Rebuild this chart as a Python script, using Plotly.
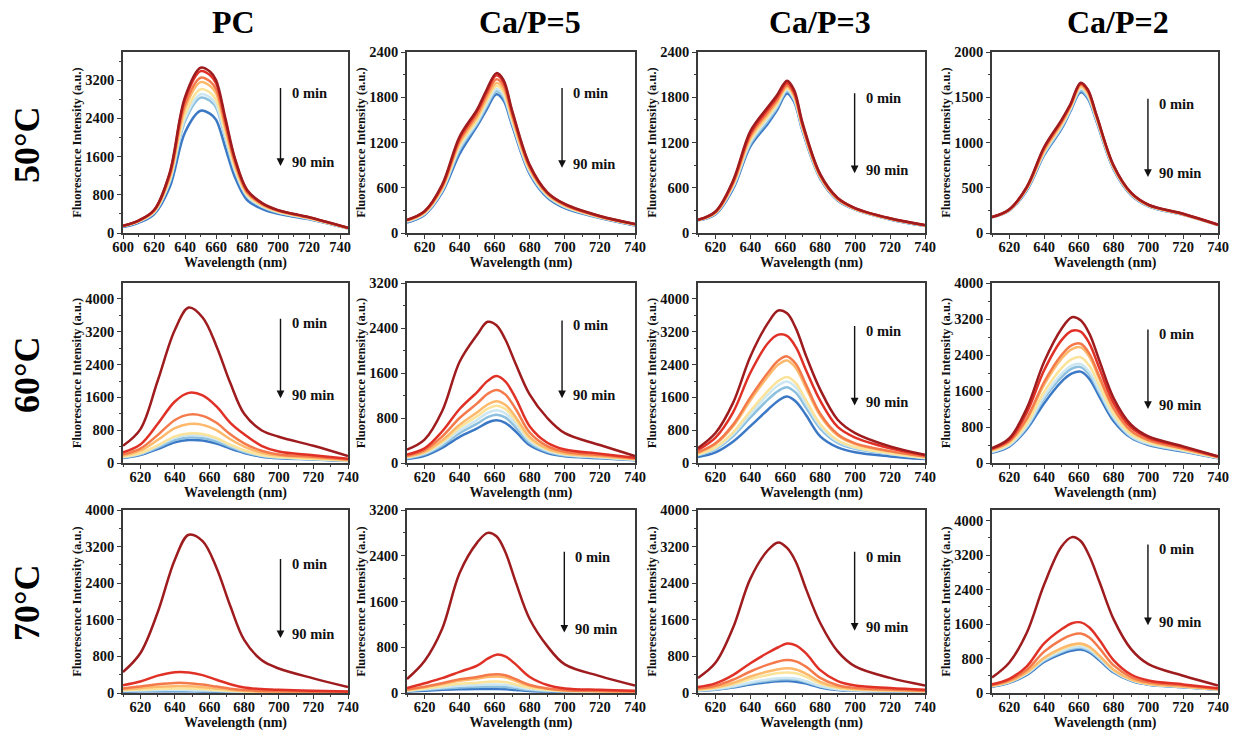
import plotly.graph_objects as go

# ---------------- data ----------------
WL_PC50 = [600, 610, 620, 630, 640, 650, 656, 660, 666, 672, 680, 690, 700, 720, 745]
WL_PC = [610, 620, 630, 640, 648, 656, 664, 672, 680, 690, 700, 720, 740]
WL_CAP50 = [610, 620, 630, 640, 650, 655, 661, 665, 670, 680, 690, 700, 720, 740]
WL_CAP = [610, 620, 630, 640, 650, 656, 661, 666, 672, 680, 690, 700, 720, 740]

# each panel: 8 spectra, 0 min (first) ... 90 min (last)
PC_50 = [
    [150, 260, 480, 1250, 2850, 3460, 3380, 3200, 2400, 1580, 900, 620, 480, 330, 110],
    [150, 258, 475, 1230, 2800, 3390, 3310, 3135, 2350, 1550, 885, 612, 475, 327, 108],
    [148, 255, 465, 1190, 2690, 3250, 3175, 3010, 2255, 1490, 855, 598, 467, 322, 106],
    [146, 250, 455, 1160, 2610, 3160, 3085, 2920, 2190, 1450, 835, 585, 458, 316, 104],
    [144, 245, 440, 1110, 2490, 3010, 2940, 2785, 2090, 1380, 800, 565, 444, 308, 101],
    [142, 240, 430, 1075, 2400, 2905, 2840, 2690, 2020, 1335, 775, 550, 434, 302, 99],
    [140, 235, 420, 1050, 2340, 2835, 2770, 2625, 1970, 1305, 760, 540, 428, 298, 97],
    [125, 215, 390, 950, 2110, 2560, 2500, 2370, 1780, 1180, 690, 500, 400, 285, 92],
]
CAP5_50 = [
    [175, 290, 640, 1280, 1640, 1880, 2120, 2030, 1620, 900, 540, 385, 225, 120],
    [172, 285, 625, 1255, 1615, 1850, 2090, 2000, 1600, 890, 535, 380, 222, 118],
    [170, 280, 610, 1225, 1575, 1810, 2040, 1955, 1565, 870, 525, 372, 218, 116],
    [165, 275, 595, 1195, 1540, 1765, 1990, 1910, 1530, 850, 515, 365, 215, 114],
    [160, 265, 580, 1165, 1505, 1730, 1950, 1870, 1500, 835, 505, 358, 212, 112],
    [155, 258, 565, 1130, 1475, 1690, 1910, 1830, 1470, 815, 495, 350, 208, 110],
    [150, 250, 555, 1100, 1450, 1660, 1880, 1800, 1450, 800, 485, 342, 204, 106],
    [140, 240, 535, 1050, 1420, 1620, 1840, 1760, 1420, 780, 470, 330, 200, 100],
]
CAP3_50 = [
    [175, 285, 690, 1350, 1670, 1820, 2020, 1900, 1450, 780, 465, 330, 195, 105],
    [175, 280, 675, 1320, 1640, 1790, 1990, 1870, 1430, 770, 460, 327, 193, 104],
    [174, 275, 660, 1290, 1605, 1755, 1960, 1845, 1415, 760, 455, 324, 191, 103],
    [173, 270, 645, 1260, 1575, 1730, 1940, 1825, 1400, 752, 450, 321, 189, 102],
    [172, 266, 630, 1230, 1545, 1700, 1920, 1805, 1385, 745, 446, 318, 187, 100],
    [171, 262, 615, 1205, 1515, 1675, 1900, 1785, 1370, 738, 442, 316, 185, 99],
    [170, 258, 600, 1180, 1485, 1650, 1880, 1765, 1355, 730, 438, 313, 183, 97],
    [168, 250, 580, 1150, 1450, 1620, 1850, 1740, 1340, 720, 430, 310, 180, 95],
]
CAP2_50 = [
    [175, 262, 510, 950, 1250, 1420, 1660, 1590, 1310, 745, 445, 312, 212, 92],
    [175, 260, 505, 940, 1240, 1410, 1650, 1580, 1305, 740, 443, 310, 210, 91],
    [175, 258, 500, 925, 1225, 1400, 1640, 1570, 1295, 735, 440, 308, 208, 91],
    [175, 257, 495, 910, 1210, 1390, 1625, 1555, 1285, 728, 437, 306, 207, 90],
    [175, 255, 490, 895, 1195, 1378, 1610, 1540, 1275, 722, 433, 303, 205, 90],
    [175, 253, 485, 885, 1180, 1365, 1595, 1525, 1265, 715, 430, 301, 204, 89],
    [175, 252, 478, 872, 1165, 1352, 1575, 1505, 1252, 708, 425, 298, 202, 88],
    [174, 250, 470, 860, 1150, 1340, 1555, 1490, 1240, 700, 420, 295, 200, 88],
]
PC_60 = [
    [420, 820, 2000, 3250, 3790, 3550, 2850, 1950, 1200, 800, 640, 420, 170],
    [260, 450, 950, 1500, 1710, 1650, 1380, 980, 700, 420, 280, 190, 105],
    [210, 350, 680, 1050, 1180, 1150, 980, 700, 480, 300, 210, 150, 85],
    [180, 300, 560, 850, 950, 930, 800, 580, 400, 250, 180, 130, 75],
    [150, 240, 430, 650, 720, 705, 610, 450, 310, 195, 145, 105, 60],
    [145, 230, 410, 615, 680, 665, 575, 425, 295, 185, 138, 100, 58],
    [135, 215, 375, 560, 620, 610, 525, 390, 270, 170, 128, 92, 54],
    [120, 195, 340, 505, 560, 550, 475, 350, 245, 155, 115, 85, 50],
]
CAP5_60 = [
    [237, 415, 920, 1800, 2280, 2510, 2450, 2200, 1760, 1215, 800, 530, 320, 125],
    [150, 260, 560, 960, 1260, 1460, 1545, 1450, 1150, 650, 360, 240, 165, 95],
    [130, 230, 470, 800, 1060, 1230, 1300, 1220, 960, 540, 300, 200, 140, 80],
    [115, 200, 400, 680, 900, 1040, 1100, 1035, 815, 460, 255, 170, 120, 70],
    [105, 185, 370, 630, 830, 965, 1020, 960, 755, 425, 240, 160, 112, 65],
    [95, 170, 340, 580, 765, 890, 940, 885, 695, 390, 220, 148, 104, 60],
    [85, 155, 310, 530, 700, 815, 860, 810, 635, 355, 200, 135, 95, 55],
    [70, 130, 270, 465, 615, 720, 760, 715, 560, 315, 178, 120, 85, 50],
]
CAP3_60 = [
    [365, 730, 1460, 2600, 3410, 3720, 3650, 3290, 2600, 1790, 1055, 730, 405, 200],
    [320, 620, 1230, 2200, 2920, 3130, 3100, 2830, 2250, 1520, 880, 620, 360, 190],
    [260, 480, 930, 1600, 2200, 2500, 2600, 2420, 1900, 1200, 700, 480, 290, 160],
    [250, 460, 890, 1530, 2110, 2400, 2500, 2320, 1820, 1150, 670, 460, 280, 155],
    [210, 380, 740, 1270, 1760, 2000, 2100, 1950, 1520, 950, 555, 390, 240, 130],
    [200, 360, 700, 1200, 1665, 1895, 1990, 1845, 1440, 900, 525, 370, 228, 124],
    [185, 335, 650, 1110, 1545, 1760, 1850, 1715, 1340, 840, 490, 345, 213, 116],
    [145, 260, 520, 900, 1300, 1520, 1620, 1500, 1160, 650, 380, 260, 160, 95],
]
CAP2_60 = [
    [330, 550, 1215, 2250, 2985, 3240, 3170, 2875, 2250, 1440, 850, 590, 370, 150],
    [320, 520, 1120, 2060, 2730, 2940, 2920, 2660, 2080, 1330, 790, 560, 350, 145],
    [300, 480, 990, 1800, 2400, 2620, 2650, 2430, 1900, 1220, 720, 510, 320, 135],
    [295, 470, 960, 1740, 2320, 2530, 2570, 2360, 1850, 1190, 700, 500, 315, 132],
    [270, 430, 870, 1580, 2110, 2310, 2350, 2160, 1700, 1090, 640, 460, 290, 122],
    [250, 400, 820, 1480, 1980, 2170, 2200, 2020, 1590, 1020, 600, 430, 275, 115],
    [240, 390, 790, 1430, 1910, 2100, 2130, 1960, 1540, 990, 580, 418, 268, 112],
    [225, 370, 750, 1330, 1810, 1990, 2030, 1870, 1460, 930, 560, 400, 255, 105],
]
PC_70 = [
    [460, 870, 1760, 2920, 3460, 3320, 2740, 1900, 1160, 720, 535, 320, 130],
    [170, 250, 380, 455, 450, 390, 290, 190, 120, 85, 70, 50, 35],
    [100, 140, 190, 220, 215, 185, 140, 95, 65, 45, 38, 30, 22],
    [80, 105, 135, 150, 145, 125, 95, 68, 48, 35, 30, 24, 18],
    [60, 75, 92, 100, 97, 85, 66, 48, 35, 27, 23, 19, 15],
    [50, 60, 68, 70, 68, 60, 48, 36, 28, 22, 19, 16, 13],
    [40, 48, 54, 55, 53, 47, 38, 29, 23, 19, 16, 14, 12],
    [30, 36, 39, 40, 38, 34, 28, 22, 18, 15, 13, 11, 10],
]
CAP5_70 = [
    [245, 560, 1120, 2100, 2630, 2800, 2740, 2470, 1940, 1290, 820, 500, 295, 130],
    [85, 170, 260, 370, 480, 600, 670, 640, 500, 280, 140, 80, 55, 40],
    [60, 110, 170, 240, 280, 315, 330, 310, 240, 140, 80, 50, 35, 25],
    [55, 100, 155, 215, 250, 280, 290, 275, 210, 125, 72, 45, 32, 23],
    [45, 80, 120, 160, 180, 195, 200, 190, 150, 90, 55, 35, 27, 20],
    [40, 65, 95, 125, 138, 147, 150, 143, 112, 70, 44, 30, 23, 18],
    [35, 55, 78, 98, 105, 110, 110, 104, 83, 53, 35, 25, 20, 16],
    [25, 40, 55, 65, 70, 71, 70, 66, 53, 36, 25, 19, 16, 13],
]
CAP3_70 = [
    [330, 660, 1420, 2500, 3120, 3290, 3170, 2870, 2260, 1530, 910, 580, 330, 165],
    [130, 210, 390, 650, 880, 1000, 1080, 1040, 860, 500, 260, 165, 110, 70],
    [100, 160, 290, 470, 620, 690, 720, 690, 570, 330, 170, 110, 75, 50],
    [80, 125, 220, 360, 470, 520, 540, 515, 420, 245, 128, 85, 60, 40],
    [70, 110, 190, 305, 395, 435, 450, 430, 350, 205, 108, 74, 52, 36],
    [55, 85, 145, 230, 295, 322, 330, 315, 258, 152, 82, 58, 42, 30],
    [50, 78, 132, 210, 270, 292, 300, 287, 235, 140, 76, 54, 40, 28],
    [45, 70, 118, 185, 235, 255, 260, 248, 205, 122, 68, 50, 37, 26],
]
CAP2_70 = [
    [360, 710, 1400, 2520, 3400, 3620, 3530, 3180, 2560, 1710, 1020, 670, 400, 175],
    [200, 330, 620, 1150, 1480, 1620, 1640, 1520, 1220, 760, 430, 290, 200, 110],
    [185, 300, 540, 960, 1240, 1350, 1380, 1290, 1030, 640, 370, 250, 175, 95],
    [170, 270, 480, 820, 1040, 1125, 1150, 1075, 860, 540, 315, 215, 150, 85],
    [165, 265, 470, 805, 1020, 1105, 1130, 1055, 845, 530, 310, 210, 148, 83],
    [160, 255, 455, 775, 975, 1055, 1080, 1010, 810, 510, 300, 203, 143, 80],
    [155, 250, 440, 750, 950, 1025, 1050, 980, 785, 495, 292, 198, 140, 78],
    [145, 235, 420, 720, 910, 985, 1010, 945, 755, 475, 280, 190, 135, 75],
]

COL_TITLES = ["PC", "Ca/P=5", "Ca/P=3", "Ca/P=2"]
ROW_TITLES = ["50°C", "60°C", "70°C"]
X_TITLE = "Wavelength (nm)"
Y_TITLE = "Fluorescence Intensity (a.u.)"
ARROW_TOP = "0 min"
ARROW_BOT = "90 min"

# ---------------- styling / layout ----------------
COLORS = ["#9e1b1e", "#e03127", "#f47a4b", "#fdb96c", "#fbe39a", "#cce7f1", "#8dc0df", "#3b78c5"]
FONT = "Liberation Serif, Times New Roman, serif"

panels = [
    (PC_50, WL_PC50), (CAP5_50, WL_CAP50), (CAP3_50, WL_CAP50), (CAP2_50, WL_CAP50),
    (PC_60, WL_PC), (CAP5_60, WL_CAP), (CAP3_60, WL_CAP), (CAP2_60, WL_CAP),
    (PC_70, WL_PC), (CAP5_70, WL_CAP), (CAP3_70, WL_CAP), (CAP2_70, WL_CAP),
]
y_ranges = [3790, 2400, 2400, 2000, 4390, 3200, 4390, 4000, 4000, 3200, 4000, 4250]
y_dticks = [800, 600, 600, 500, 800, 800, 800, 800, 800, 800, 800, 800]
x_ranges = [[600, 745]] + [[610, 740]] * 11

W, H = 1236, 738
col_px = [(123, 348), (407, 635), (698, 925), (992, 1218)]
row_px = [(52, 233), (283, 463), (510, 693)]
# arrow (x, top, bottom) in axis-domain fractions
arrows = [
    (0.70, 0.81, 0.37), (0.68, 0.81, 0.36), (0.69, 0.78, 0.33), (0.69, 0.75, 0.31),
    (0.70, 0.81, 0.36), (0.68, 0.80, 0.36), (0.69, 0.77, 0.32), (0.69, 0.75, 0.30),
    (0.70, 0.74, 0.30), (0.69, 0.78, 0.33), (0.69, 0.78, 0.34), (0.69, 0.82, 0.37),
]

fig = go.Figure()
layout = {}
annotations = []

for k, (data, wl) in enumerate(panels):
    r, c = divmod(k, 4)
    idx = k + 1
    xa = "x" if idx == 1 else f"x{idx}"
    ya = "y" if idx == 1 else f"y{idx}"
    for i in reversed(range(len(data))):
        fig.add_trace(go.Scatter(
            x=wl, y=data[i], mode="lines", xaxis=xa, yaxis=ya,
            line=dict(color=COLORS[i], width=2.5, shape="spline", smoothing=1.0),
            showlegend=False, hoverinfo="skip",
        ))
    x0, x1 = col_px[c]
    y0, y1 = row_px[r]
    axis_common = dict(
        automargin=False,
        showline=True, linecolor="#3a3a3a", linewidth=1.5, mirror=True,
        ticks="outside", ticklen=4, tickwidth=1.2, tickcolor="#3a3a3a",
        showgrid=False, zeroline=False,
        tickfont=dict(family=FONT, size=14.5, color="#111", weight="bold"),
    )
    layout["xaxis" if idx == 1 else f"xaxis{idx}"] = dict(
        axis_common, domain=[x0 / W, x1 / W], anchor=ya, range=x_ranges[k],
        tick0=600, dtick=20, ticklabelstandoff=-4,
        minor=dict(ticks="outside", ticklen=2, tickcolor="#3a3a3a", dtick=10, tick0=600),
        title=dict(text=X_TITLE, standoff=0,
                   font=dict(family=FONT, size=14, color="#111", weight="bold")),
    )
    layout["yaxis" if idx == 1 else f"yaxis{idx}"] = dict(
        axis_common, domain=[1 - y1 / H, 1 - y0 / H], anchor=xa,
        range=[0, y_ranges[k]], tick0=0, dtick=y_dticks[k],
        minor=dict(ticks="outside", ticklen=2, tickcolor="#3a3a3a",
                   dtick=y_dticks[k] / 2, tick0=0),
        title=dict(text=Y_TITLE, standoff=1,
                   font=dict(family=FONT, size=12.5, color="#111", weight="bold")),
    )
    ax_x, ax_top, ax_bot = arrows[k]
    h_px = (y1 - y0)
    annotations.append(dict(
        xref=f"{xa} domain", yref=f"{ya} domain", x=ax_x, y=ax_bot,
        ax=0, ay=-(ax_top - ax_bot) * h_px, axref="pixel", ayref="pixel",
        showarrow=True, arrowhead=2, arrowsize=1.1, arrowwidth=1.4, arrowcolor="#111",
        text="",
    ))
    annotations.append(dict(
        xref=f"{xa} domain", yref=f"{ya} domain", x=ax_x + 0.04, y=ax_top - 0.035,
        text=f"<b>{ARROW_TOP}</b>", showarrow=False, xanchor="left", yanchor="middle",
        font=dict(family=FONT, size=14.5, color="#111"),
    ))
    annotations.append(dict(
        xref=f"{xa} domain", yref=f"{ya} domain", x=ax_x + 0.04, y=ax_bot + 0.02,
        text=f"<b>{ARROW_BOT}</b>", showarrow=False, xanchor="left", yanchor="middle",
        font=dict(family=FONT, size=14.5, color="#111"),
    ))

col_title_x = [233, 530, 820, 1118]
for t, xp in zip(COL_TITLES, col_title_x):
    annotations.append(dict(
        xref="paper", yref="paper", x=xp / W, y=1 - 22 / H, text=f"<b>{t}</b>",
        showarrow=False, xanchor="center", yanchor="middle",
        font=dict(family=FONT, size=32, color="#000"),
    ))
row_title_y = [145, 375, 603]
for t, yp in zip(ROW_TITLES, row_title_y):
    annotations.append(dict(
        xref="paper", yref="paper", x=27 / W, y=1 - yp / H, text=f"<b>{t}</b>",
        showarrow=False, xanchor="center", yanchor="middle", textangle=-90,
        font=dict(family=FONT, size=36, color="#000"),
    ))

fig.update_layout(
    **layout,
    annotations=annotations,
    width=W, height=H,
    margin=dict(l=0, r=0, t=0, b=0, autoexpand=False),
    paper_bgcolor="white", plot_bgcolor="white",
    showlegend=False,
)
fig.write_html(
    "out.html",
    config={"displayModeBar": False},
    post_script="document.body.style.margin='0';document.body.style.overflow='hidden';",
)
